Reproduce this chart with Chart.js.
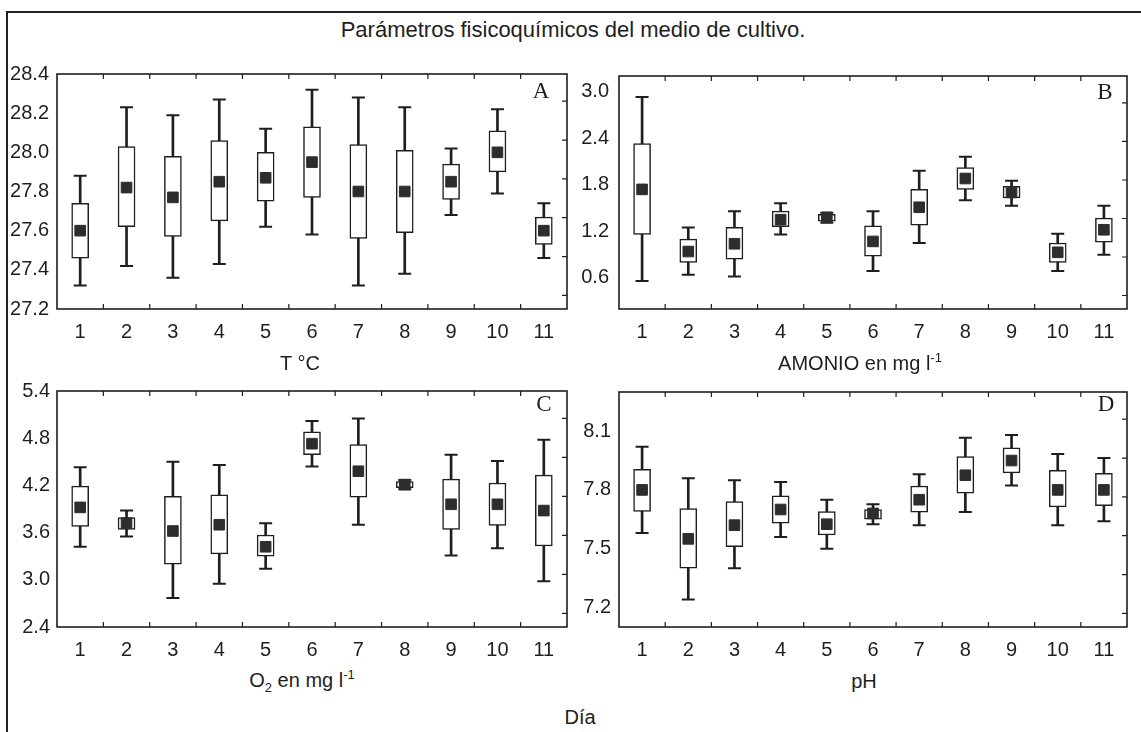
<!DOCTYPE html>
<html>
<head>
<meta charset="utf-8">
<script src="https://cdn.jsdelivr.net/npm/chart.js@4.4.1/dist/chart.umd.min.js"></script>
<style>
    body { margin: 0; background: #fff; }
    #wrap { position: relative; width: 1141px; height: 732px; overflow: hidden; background: #fff; }
    #frame { position: absolute; left: 6px; top: 11px; width: 1200px; height: 800px;
             border-top: 2px solid #222; border-left: 2px solid #222; }
    canvas { position: absolute; }
    .txt { position: absolute; transform: translate(-50%, -50%); white-space: nowrap;
           font-family: "Liberation Sans", Arial, sans-serif; font-size: 20px; color: #1e1e1e; line-height: 1; }
    .txt sup, .txt sub { font-size: 13px; line-height: 0; }
    .letter { font-family: "Liberation Serif", "Times New Roman", serif; font-size: 23px; }
</style>
</head>
<body>
<div id="wrap">
    <div id="frame"></div>
    <div class="txt" style="left:573px; top:30px; font-size:22px;">Parámetros fisicoquímicos del medio de cultivo.</div>

    <canvas id="chartA" width="572" height="290" style="left:0px; top:54px;"></canvas>
    <canvas id="chartB" width="581" height="290" style="left:560px; top:54px;"></canvas>
    <canvas id="chartC" width="572" height="290" style="left:0px; top:372px;"></canvas>
    <canvas id="chartD" width="581" height="290" style="left:560px; top:372px;"></canvas>

    <div class="txt letter" style="left:541px; top:90px;">A</div>
    <div class="txt letter" style="left:1105px; top:91px;">B</div>
    <div class="txt letter" style="left:544px; top:403px;">C</div>
    <div class="txt letter" style="left:1106px; top:403px;">D</div>

    <div class="txt" style="left:300px; top:363px;">T °C</div>
    <div class="txt" style="left:860px; top:363px;">AMONIO en mg l<sup>-1</sup></div>
    <div class="txt" style="left:302px; top:680px;">O<sub>2</sub> en mg l<sup>-1</sup></div>
    <div class="txt" style="left:864px; top:681px;">pH</div>
    <div class="txt" style="left:580px; top:717px;">Día</div>
</div>

<script>
const days = ['1', '2', '3', '4', '5', '6', '7', '8', '9', '10', '11'];

// T °C
const tempMean      = [27.60, 27.82, 27.77, 27.85, 27.87, 27.95, 27.80, 27.80, 27.85, 28.00, 27.60];
const tempBoxHigh   = [27.74, 28.03, 27.98, 28.06, 28.00, 28.13, 28.04, 28.01, 27.94, 28.11, 27.67];
const tempBoxLow    = [27.46, 27.62, 27.57, 27.65, 27.75, 27.77, 27.56, 27.59, 27.76, 27.90, 27.53];
const tempWhiskHigh = [27.88, 28.23, 28.19, 28.27, 28.12, 28.32, 28.28, 28.23, 28.02, 28.22, 27.74];
const tempWhiskLow  = [27.32, 27.42, 27.36, 27.43, 27.62, 27.58, 27.32, 27.38, 27.68, 27.79, 27.46];
const tempTicks     = [27.2, 27.4, 27.6, 27.8, 28.0, 28.2, 28.4];

// AMONIO en mg l-1
const amMean      = [1.74, 0.94, 1.04, 1.35, 1.38, 1.07, 1.51, 1.88, 1.70, 0.93, 1.22];
const amBoxHigh   = [2.33, 1.10, 1.25, 1.46, 1.42, 1.27, 1.74, 2.02, 1.78, 1.05, 1.37];
const amBoxLow    = [1.16, 0.80, 0.84, 1.26, 1.33, 0.88, 1.28, 1.74, 1.63, 0.80, 1.06];
const amWhiskHigh = [2.93, 1.25, 1.46, 1.56, 1.44, 1.46, 1.98, 2.16, 1.85, 1.17, 1.53];
const amWhiskLow  = [0.56, 0.64, 0.62, 1.16, 1.31, 0.69, 1.05, 1.60, 1.53, 0.69, 0.90];
const amTicks     = [0.6, 1.2, 1.8, 2.4, 3.0];

// O2 en mg l-1
const oxMean      = [3.92, 3.72, 3.62, 3.70, 3.42, 4.73, 4.38, 4.21, 3.96, 3.96, 3.88];
const oxBoxHigh   = [4.19, 3.79, 4.06, 4.08, 3.57, 4.88, 4.72, 4.25, 4.28, 4.23, 4.33];
const oxBoxLow    = [3.68, 3.64, 3.20, 3.33, 3.30, 4.59, 4.05, 4.17, 3.64, 3.69, 3.43];
const oxWhiskHigh = [4.43, 3.88, 4.50, 4.46, 3.72, 5.02, 5.05, 4.27, 4.59, 4.51, 4.78];
const oxWhiskLow  = [3.42, 3.55, 2.77, 2.95, 3.14, 4.44, 3.70, 4.15, 3.31, 3.40, 2.98];
const oxTicks     = [2.4, 3.0, 3.6, 4.2, 4.8, 5.4];

// pH
const phMean      = [7.80, 7.55, 7.62, 7.70, 7.625, 7.68, 7.75, 7.875, 7.95, 7.80, 7.80];
const phBoxHigh   = [7.905, 7.705, 7.74, 7.77, 7.69, 7.70, 7.82, 7.97, 8.015, 7.90, 7.885];
const phBoxLow    = [7.69, 7.40, 7.51, 7.63, 7.57, 7.65, 7.687, 7.783, 7.887, 7.713, 7.72];
const phWhiskHigh = [8.02, 7.86, 7.85, 7.84, 7.75, 7.727, 7.88, 8.067, 8.08, 7.983, 7.963];
const phWhiskLow  = [7.58, 7.24, 7.40, 7.56, 7.50, 7.625, 7.62, 7.687, 7.823, 7.62, 7.64];
const phTicks     = [7.2, 7.5, 7.8, 8.1];

// unlabeled tick marks on the right edge of every panel
const rightTicks = [0, 1, 2, 3, 4, 5];

const ink = '#1e1e1e';
Chart.defaults.font.family = '"Liberation Sans", Arial, sans-serif';
Chart.defaults.color = ink;

// plot frame plus the small inward tick marks
const frameTicks = {
    id: 'frameTicks',
    afterDatasetsDraw(chart) {
        const { ctx, chartArea: a, scales } = chart;
        ctx.save();
        ctx.strokeStyle = ink;
        ctx.lineWidth = 1.6;
        ctx.strokeRect(a.left, a.top, a.right - a.left, a.bottom - a.top);
        ctx.lineWidth = 1.2;
        ctx.beginPath();
        for (let i = 0; i < days.length - 1; i++) {
            const px = (scales.x.getPixelForValue(i) + scales.x.getPixelForValue(i + 1)) / 2;
            ctx.moveTo(px, a.top); ctx.lineTo(px, a.top + 5);
            ctx.moveTo(px, a.bottom); ctx.lineTo(px, a.bottom - 5);
        }
        rightTicks.forEach(t => {
            const py = scales.y2.getPixelForValue(t);
            ctx.moveTo(a.right - 5, py); ctx.lineTo(a.right, py);
        });
        ctx.stroke();
        ctx.restore();
    }
};

function drawPanel(id, p) {
    const ctx = document.getElementById(id).getContext('2d');
    return new Chart(ctx, {
        type: 'bar',
        data: {
            labels: days,
            datasets: [
                {
                    type: 'line', data: p.mean, showLine: false, order: 0,
                    pointStyle: 'rect', pointRadius: 7.5,
                    pointBackgroundColor: '#2d2d2d', pointBorderColor: '#2d2d2d', pointBorderWidth: 1
                },
                {
                    type: 'line', data: p.whiskHigh, showLine: false, order: 1,
                    pointStyle: 'line', pointRadius: 6.5, pointBorderColor: ink, pointBorderWidth: 2
                },
                {
                    type: 'line', data: p.whiskLow, showLine: false, order: 1,
                    pointStyle: 'line', pointRadius: 6.5, pointBorderColor: ink, pointBorderWidth: 2
                },
                {
                    data: p.boxLow.map((v, i) => [v, p.boxHigh[i]]), order: 2, grouped: false,
                    backgroundColor: '#fff', borderColor: ink, borderWidth: 1.5,
                    borderSkipped: false, barThickness: 17
                },
                {
                    data: p.whiskLow.map((v, i) => [v, p.whiskHigh[i]]), order: 3, grouped: false,
                    backgroundColor: ink, borderWidth: 0, barThickness: 2
                }
            ]
        },
        options: {
            responsive: false,
            animation: false,
            events: [],
            layout: { autoPadding: false, padding: { left: 0, top: 15, right: p.padRight, bottom: 0 } },
            plugins: { legend: { display: false }, tooltip: { enabled: false } },
            scales: {
                x: {
                    grid: { display: false, drawTicks: false },
                    border: { display: false },
                    ticks: { font: { size: 20 }, padding: 11, maxRotation: 0, autoSkip: false },
                    afterFit: s => { s.height = 35; }
                },
                y: {
                    min: p.min, max: p.max,
                    grid: { display: false, drawTicks: false },
                    border: { display: false },
                    afterBuildTicks: s => { s.ticks = p.ticks.map(v => ({ value: v })); },
                    ticks: { font: { size: 20 }, padding: p.labelPad, callback: v => v.toFixed(1) },
                    afterFit: s => { s.width = p.axisWidth; }
                },
                y2: { display: false, position: 'right', min: -0.35, max: 5.7 }
            }
        },
        plugins: [frameTicks]
    });
}

window.onload = function() {
    drawPanel('chartA', {
        mean: tempMean, boxLow: tempBoxLow, boxHigh: tempBoxHigh, whiskLow: tempWhiskLow, whiskHigh: tempWhiskHigh,
        ticks: tempTicks, min: 27.2, max: 28.4, axisWidth: 57, labelPad: 8, padRight: 5
    });
    drawPanel('chartB', {
        mean: amMean, boxLow: amBoxLow, boxHigh: amBoxHigh, whiskLow: amWhiskLow, whiskHigh: amWhiskHigh,
        ticks: amTicks, min: 0.2, max: 3.2, axisWidth: 59, labelPad: 10, padRight: 14
    });
    drawPanel('chartC', {
        mean: oxMean, boxLow: oxBoxLow, boxHigh: oxBoxHigh, whiskLow: oxWhiskLow, whiskHigh: oxWhiskHigh,
        ticks: oxTicks, min: 2.4, max: 5.4, axisWidth: 57, labelPad: 7, padRight: 5
    });
    drawPanel('chartD', {
        mean: phMean, boxLow: phBoxLow, boxHigh: phBoxHigh, whiskLow: phWhiskLow, whiskHigh: phWhiskHigh,
        ticks: phTicks, min: 7.1, max: 8.3, axisWidth: 59, labelPad: 8, padRight: 14
    });
};
</script>
</body>
</html>
